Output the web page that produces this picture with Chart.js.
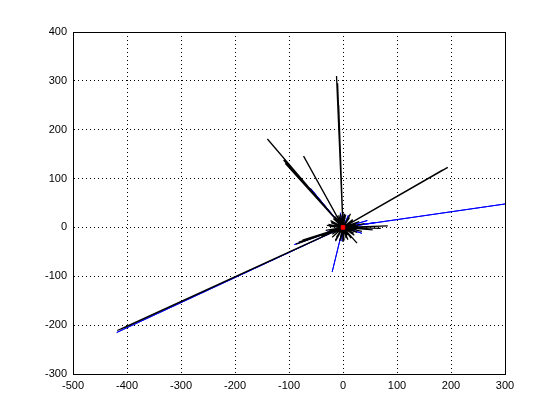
<!DOCTYPE html>
<html>
<head>
<meta charset="utf-8">
<script src="https://cdn.jsdelivr.net/npm/chart.js@4/dist/chart.umd.min.js"></script>
<style>
  body { margin: 0; background: #fff; }
  #wrap { width: 560px; height: 420px; }
</style>
</head>
<body>
<div id="wrap"><canvas id="chart" width="560" height="420"></canvas></div>
<script>
// tick labels
const xTicks = [-500, -400, -300, -200, -100, 0, 100, 200, 300];
const yTicks = [-300, -200, -100, 0, 100, 200, 300, 400];

// end points of black rays (all start at the origin)
const blackX = [-418, -412, -405, -12, -10, -8, -140, -110, -107, -100, -95, -90, -73, 194, 185, 83, 70, 55, -87, -82, -75, 26, 40, -40,
    -22, -18, -25, -15, -8, 5, 12, 18, 22, 25, 20, 14, 6, -4, -12, -20, -24, 30, 35, -30, 8, -6, 16, -16, 28, -28, 10,
    -26, -20, -14, -6, 2, 9, 15, 21, 26, 24, 18, 11, 3, -5, -11, -17, -23, -27, 32, -32, 0, 0, 14, -14];
const blackY = [-211, -208, -205, 310, 295, 250, 181, 138, 131, 125, 118, 112, 146, 123, 118, 3, -2, -5, -34, -30, -26, -32, 8, -18,
    10, 18, 2, 22, 25, 26, 20, 14, 6, -4, -12, -18, -22, -24, -20, -14, -6, 12, -8, 4, -16, 15, -20, -10, 2, -12, 20,
    -8, -20, -26, -28, -27, -25, -22, -16, -10, 8, 16, 22, 28, 27, 24, 22, 14, 6, -3, -6, 30, -30, 28, -28];

// end points of blue rays
const blueX = [-419, 300, -20, -90, 60, -5, 10, -30, 35, -60, 15, -12, 45, 22, -2];
const blueY = [-215, 48, -91, -35, 10, 30, 25, -10, -12, 80, -20, 15, 14, 6, -28];

function star(xs, ys) {
    const pts = [];
    xs.forEach((x, i) => {
        pts.push({x: 0, y: 0});
        pts.push({x: x, y: ys[i]});
    });
    pts.push({x: 0, y: 0});
    return pts;
}

const boxPlugin = {
    id: 'box',
    afterDraw(chart) {
        const a = chart.chartArea;
        const c = chart.ctx;
        c.save();
        c.strokeStyle = '#000';
        c.lineWidth = 1;
        c.strokeRect(Math.round(a.left) + 0.5, Math.round(a.top) + 0.5,
            Math.round(a.right - a.left), Math.round(a.bottom - a.top));
        c.restore();
    }
};

const ctx = document.getElementById('chart').getContext('2d');
new Chart(ctx, {
    type: 'scatter',
    data: {
        datasets: [{
            data: [{x: 0, y: 0}],
            pointStyle: 'rect',
            pointRadius: 2.5,
            backgroundColor: '#ff0000',
            borderColor: '#ff0000'
        }, {
            data: star(blackX, blackY),
            showLine: true,
            borderColor: '#000000',
            borderWidth: 1.3,
            pointRadius: 0
        }, {
            data: star(blueX, blueY),
            showLine: true,
            borderColor: '#0000ff',
            borderWidth: 1,
            pointRadius: 0
        }]
    },
    options: {
        responsive: false,
        animation: false,
        layout: { padding: { left: 0, right: 55, top: 32, bottom: 0 } },
        plugins: { legend: { display: false }, tooltip: { enabled: false } },
        scales: {
            x: {
                type: 'linear',
                min: -500,
                max: 300,
                afterBuildTicks: (s) => { s.ticks = xTicks.map(v => ({value: v})); },
                afterFit: (s) => { s.height = 46; },
                grid: { color: '#000', lineWidth: 1, drawTicks: false },
                border: { color: '#000', dash: [1, 3] },
                ticks: { color: '#000', font: { family: 'Liberation Sans', size: 11 }, padding: 5, maxRotation: 0 }
            },
            y: {
                type: 'linear',
                min: -300,
                max: 400,
                afterBuildTicks: (s) => { s.ticks = yTicks.map(v => ({value: v})); },
                afterFit: (s) => { s.width = 73; },
                grid: { color: '#000', lineWidth: 1, drawTicks: false },
                border: { color: '#000', dash: [1, 3] },
                ticks: { color: '#000', font: { family: 'Liberation Sans', size: 11 }, padding: 6 }
            }
        }
    },
    plugins: [boxPlugin]
});
</script>
</body>
</html>
